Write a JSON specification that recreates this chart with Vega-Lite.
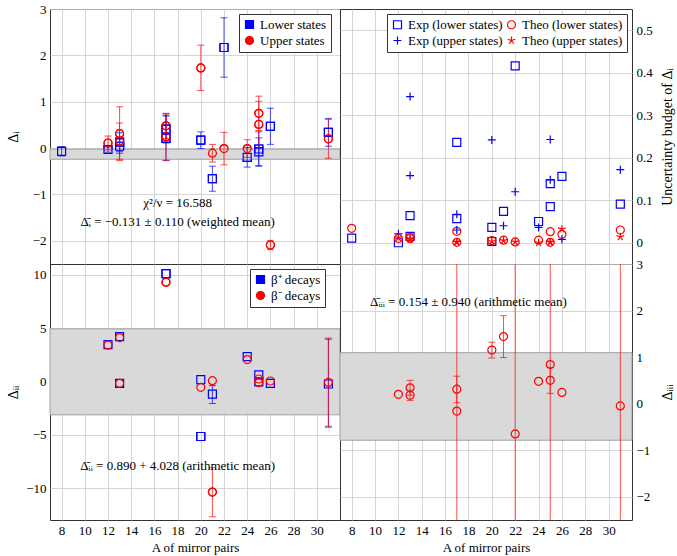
{
  "$schema": "https://vega.github.io/schema/vega-lite/v6.json",
  "padding": {"left": 5, "top": 2, "right": 2, "bottom": 2},
  "bounds": "flush",
  "spacing": 0,
  "columns": 2,
  "config": {
    "font": "Liberation Serif",
    "view": {"stroke": "#333333", "strokeWidth": 1},
    "axis": {
      "labelFont": "Liberation Serif", "labelFontSize": 13, "labelColor": "#000000",
      "titleFont": "Liberation Serif", "titleFontSize": 14, "titleFontWeight": "normal", "titleColor": "#000000",
      "gridColor": "#cccccc", "gridWidth": 0.8, "domain": false, "ticks": false, "labelPadding": 4, "labelOverlap": false
    },
    "legend": {
      "labelFont": "Liberation Serif", "labelFontSize": 13, "labelColor": "#000000",
      "fillColor": "#ffffff", "strokeColor": "#333333", "padding": 4, "rowPadding": 2,
      "symbolSize": 64, "symbolStrokeWidth": 1.2, "offset": 5
    },
    "text": {"font": "Liberation Serif", "fontSize": 13}
  },
  "datasets": {
    "p1": [
      {"A": 8, "v": -0.07, "lo": -0.17, "hi": 0.03, "s": "Lower states"},
      {"A": 12, "v": -0.03, "lo": -0.09, "hi": 0.03, "s": "Lower states"},
      {"A": 13, "v": 0.13, "lo": -0.07, "hi": 0.33, "s": "Lower states"},
      {"A": 13, "v": 0.04, "lo": -0.11, "hi": 0.19, "s": "Lower states"},
      {"A": 17, "v": 0.41, "lo": 0.11, "hi": 0.71, "s": "Lower states"},
      {"A": 17, "v": 0.21, "lo": -0.27, "hi": 0.69, "s": "Lower states"},
      {"A": 20, "v": 0.17, "lo": -0.01, "hi": 0.35, "s": "Lower states"},
      {"A": 21, "v": -0.66, "lo": -0.93, "hi": -0.39, "s": "Lower states"},
      {"A": 22, "v": 2.17, "lo": 1.53, "hi": 2.81, "s": "Lower states"},
      {"A": 24, "v": -0.2, "lo": -0.41, "hi": 0.01, "s": "Lower states"},
      {"A": 25, "v": -0.02, "lo": -0.39, "hi": 0.35, "s": "Lower states"},
      {"A": 25, "v": -0.08, "lo": -0.38, "hi": 0.22, "s": "Lower states"},
      {"A": 26, "v": 0.47, "lo": 0.08, "hi": 0.86, "s": "Lower states"},
      {"A": 31, "v": 0.34, "lo": 0.04, "hi": 0.64, "s": "Lower states"},
      {"A": 12, "v": 0.11, "lo": -0.04, "hi": 0.26, "s": "Upper states"},
      {"A": 13, "v": 0.31, "lo": -0.27, "hi": 0.89, "s": "Upper states"},
      {"A": 13, "v": 0.15, "lo": -0.24, "hi": 0.54, "s": "Upper states"},
      {"A": 17, "v": 0.48, "lo": 0.21, "hi": 0.75, "s": "Upper states"},
      {"A": 17, "v": 0.24, "lo": -0.26, "hi": 0.74, "s": "Upper states"},
      {"A": 20, "v": 1.73, "lo": 1.24, "hi": 2.22, "s": "Upper states"},
      {"A": 21, "v": -0.11, "lo": -0.3, "hi": 0.08, "s": "Upper states"},
      {"A": 22, "v": -0.01, "lo": -0.36, "hi": 0.34, "s": "Upper states"},
      {"A": 24, "v": -0.01, "lo": -0.2, "hi": 0.18, "s": "Upper states"},
      {"A": 25, "v": 0.75, "lo": 0.38, "hi": 1.12, "s": "Upper states"},
      {"A": 25, "v": 0.51, "lo": 0.01, "hi": 1.01, "s": "Upper states"},
      {"A": 26, "v": -2.09, "lo": -2.19, "hi": -1.99, "s": "Upper states"},
      {"A": 31, "v": 0.2, "lo": -0.22, "hi": 0.62, "s": "Upper states"}
    ],
    "p2": [
      {"A": 8, "v": 0.011, "s": "Exp (lower states)"},
      {"A": 12, "v": 0.0, "s": "Exp (lower states)"},
      {"A": 13, "v": 0.064, "s": "Exp (lower states)"},
      {"A": 13, "v": 0.015, "s": "Exp (lower states)"},
      {"A": 17, "v": 0.236, "s": "Exp (lower states)"},
      {"A": 17, "v": 0.057, "s": "Exp (lower states)"},
      {"A": 20, "v": 0.036, "s": "Exp (lower states)"},
      {"A": 20, "v": 0.003, "s": "Exp (lower states)"},
      {"A": 21, "v": 0.074, "s": "Exp (lower states)"},
      {"A": 22, "v": 0.416, "s": "Exp (lower states)"},
      {"A": 24, "v": 0.05, "s": "Exp (lower states)"},
      {"A": 25, "v": 0.139, "s": "Exp (lower states)"},
      {"A": 25, "v": 0.085, "s": "Exp (lower states)"},
      {"A": 26, "v": 0.156, "s": "Exp (lower states)"},
      {"A": 31, "v": 0.091, "s": "Exp (lower states)"},
      {"A": 8, "v": 0.034, "s": "Theo (lower states)"},
      {"A": 12, "v": 0.01, "s": "Theo (lower states)"},
      {"A": 13, "v": 0.013, "s": "Theo (lower states)"},
      {"A": 13, "v": 0.01, "s": "Theo (lower states)"},
      {"A": 17, "v": 0.027, "s": "Theo (lower states)"},
      {"A": 17, "v": 0.001, "s": "Theo (lower states)"},
      {"A": 20, "v": 0.005, "s": "Theo (lower states)"},
      {"A": 21, "v": 0.006, "s": "Theo (lower states)"},
      {"A": 22, "v": 0.002, "s": "Theo (lower states)"},
      {"A": 24, "v": 0.006, "s": "Theo (lower states)"},
      {"A": 25, "v": 0.026, "s": "Theo (lower states)"},
      {"A": 25, "v": 0.001, "s": "Theo (lower states)"},
      {"A": 26, "v": 0.02, "s": "Theo (lower states)"},
      {"A": 31, "v": 0.03, "s": "Theo (lower states)"},
      {"A": 12, "v": 0.021, "s": "Exp (upper states)"},
      {"A": 13, "v": 0.344, "s": "Exp (upper states)"},
      {"A": 13, "v": 0.158, "s": "Exp (upper states)"},
      {"A": 17, "v": 0.067, "s": "Exp (upper states)"},
      {"A": 17, "v": 0.03, "s": "Exp (upper states)"},
      {"A": 20, "v": 0.242, "s": "Exp (upper states)"},
      {"A": 21, "v": 0.04, "s": "Exp (upper states)"},
      {"A": 22, "v": 0.12, "s": "Exp (upper states)"},
      {"A": 24, "v": 0.036, "s": "Exp (upper states)"},
      {"A": 25, "v": 0.243, "s": "Exp (upper states)"},
      {"A": 25, "v": 0.148, "s": "Exp (upper states)"},
      {"A": 26, "v": 0.008, "s": "Exp (upper states)"},
      {"A": 31, "v": 0.172, "s": "Exp (upper states)"},
      {"A": 12, "v": 0.012, "s": "Theo (upper states)"},
      {"A": 13, "v": 0.01, "s": "Theo (upper states)"},
      {"A": 13, "v": 0.008, "s": "Theo (upper states)"},
      {"A": 17, "v": 0.002, "s": "Theo (upper states)"},
      {"A": 17, "v": 0.001, "s": "Theo (upper states)"},
      {"A": 20, "v": 0.003, "s": "Theo (upper states)"},
      {"A": 21, "v": 0.005, "s": "Theo (upper states)"},
      {"A": 22, "v": 0.002, "s": "Theo (upper states)"},
      {"A": 24, "v": 0.0, "s": "Theo (upper states)"},
      {"A": 25, "v": 0.002, "s": "Theo (upper states)"},
      {"A": 25, "v": 0.001, "s": "Theo (upper states)"},
      {"A": 26, "v": 0.032, "s": "Theo (upper states)"},
      {"A": 31, "v": 0.014, "s": "Theo (upper states)"}
    ],
    "p3": [
      {"A": 12, "v": 3.45, "s": "β⁺ decays"},
      {"A": 13, "v": 4.2, "s": "β⁺ decays"},
      {"A": 13, "v": -0.19, "s": "β⁺ decays"},
      {"A": 17, "v": 10.1, "s": "β⁺ decays"},
      {"A": 20, "v": 0.16, "s": "β⁺ decays"},
      {"A": 20, "v": -5.17, "s": "β⁺ decays"},
      {"A": 21, "v": -1.19, "lo": -2.08, "hi": -0.4, "s": "β⁺ decays"},
      {"A": 24, "v": 2.32, "s": "β⁺ decays"},
      {"A": 25, "v": 0.6, "s": "β⁺ decays"},
      {"A": 25, "v": -0.05, "s": "β⁺ decays"},
      {"A": 26, "v": -0.19, "s": "β⁺ decays"},
      {"A": 31, "v": -0.25, "lo": -4.3, "hi": 3.95, "s": "β⁺ decays"},
      {"A": 12, "v": 3.39, "s": "β⁻ decays"},
      {"A": 13, "v": 4.1, "s": "β⁻ decays"},
      {"A": 13, "v": -0.19, "s": "β⁻ decays"},
      {"A": 17, "v": 9.3, "s": "β⁻ decays"},
      {"A": 20, "v": -0.56, "s": "β⁻ decays"},
      {"A": 21, "v": 0.06, "s": "β⁻ decays"},
      {"A": 21, "v": -10.38, "lo": -12.7, "hi": -8.1, "s": "β⁻ decays"},
      {"A": 24, "v": 2.04, "s": "β⁻ decays"},
      {"A": 25, "v": 0.22, "s": "β⁻ decays"},
      {"A": 25, "v": -0.12, "s": "β⁻ decays"},
      {"A": 26, "v": 0.03, "s": "β⁻ decays"},
      {"A": 31, "v": -0.1, "lo": -4.2, "hi": 4.05, "s": "β⁻ decays"}
    ],
    "p4": [
      {"A": 12, "v": 0.2},
      {"A": 13, "v": 0.34, "lo": 0.18, "hi": 0.5},
      {"A": 13, "v": 0.18, "lo": 0.07, "hi": 0.29},
      {"A": 17, "v": 0.31, "lo": 0.02, "hi": 0.59},
      {"A": 17, "v": -0.16, "lo": -9, "hi": 9},
      {"A": 20, "v": 1.15, "lo": 0.98, "hi": 1.32},
      {"A": 21, "v": 1.44, "lo": 0.99, "hi": 1.89},
      {"A": 22, "v": -0.65, "lo": -9, "hi": 9},
      {"A": 24, "v": 0.48},
      {"A": 25, "v": 0.84, "lo": -9, "hi": 9},
      {"A": 25, "v": 0.5, "lo": 0.22, "hi": 0.78},
      {"A": 26, "v": 0.24},
      {"A": 31, "v": -0.05, "lo": -9, "hi": 9}
    ]
  },
  "resolve": {
    "scale": {"color": "independent", "shape": "independent", "fill": "independent", "stroke": "independent"},
    "legend": {"color": "independent", "shape": "independent"}
  },
  "concat": [
    {
      "width": 290, "height": 255,
      "layer": [
        {
          "data": {"name": "p1"},
          "mark": {"type": "point", "filled": false, "size": 64, "strokeWidth": 1.2, "opacity": 1},
          "encoding": {
            "x": {"field": "A", "type": "quantitative", "scale": {"domain": [7, 32], "nice": false, "zero": false},
                  "axis": {"values": [8, 10, 12, 14, 16, 18, 20, 22, 24, 26, 28, 30], "labels": false, "title": null, "grid": true, "labelOverlap": false}},
            "y": {"field": "v", "type": "quantitative", "scale": {"domain": [-2.5, 3], "nice": false, "zero": false},
                  "axis": {"title": "Δᵢ", "values": [-2, -1, 0, 1, 2, 3], "grid": true, "minExtent": 28, "maxExtent": 28, "titlePadding": 2, "labelFont": "Liberation Serif", "titleFont": "Liberation Serif", "labelFontSize": 13, "titleFontSize": 14, "labelOverlap": false}},
            "color": {"field": "s", "type": "nominal", "scale": {"domain": ["Lower states", "Upper states"], "range": ["#0000ff", "#ff0000"]},
                      "legend": {"title": null, "orient": "none", "legendX": 189, "legendY": 5, "labelFont": "Liberation Serif", "labelFontSize": 13}},
            "shape": {"field": "s", "type": "nominal", "scale": {"domain": ["Lower states", "Upper states"], "range": ["square", "circle"]},
                      "legend": {"title": null, "orient": "none", "legendX": 189, "legendY": 5, "labelFont": "Liberation Serif", "labelFontSize": 13}}
          }
        },
        {
          "data": {"values": [{"lo": -0.241, "hi": -0.021}]},
          "mark": {"type": "rect", "fill": "#d9d9d9", "stroke": "#a0a0a0", "strokeWidth": 1},
          "encoding": {
            "y": {"field": "lo", "type": "quantitative", "scale": {"domain": [-2.5, 3], "nice": false, "zero": false},
                  "axis": {"title": "Δᵢ", "values": [-2, -1, 0, 1, 2, 3], "grid": true, "minExtent": 28, "maxExtent": 28, "titlePadding": 2, "labelFont": "Liberation Serif", "titleFont": "Liberation Serif", "labelFontSize": 13, "titleFontSize": 14, "labelOverlap": false}},
            "y2": {"field": "hi"}
          }
        },
        {
          "data": {"name": "p1"},
          "mark": {"type": "rule", "strokeWidth": 1, "opacity": 0.7, "clip": true},
          "encoding": {
            "x": {"field": "A", "type": "quantitative", "scale": {"domain": [7, 32], "nice": false, "zero": false},
                  "axis": {"values": [8, 10, 12, 14, 16, 18, 20, 22, 24, 26, 28, 30], "labels": false, "title": null, "grid": true, "labelOverlap": false}},
            "y": {"field": "lo", "type": "quantitative", "scale": {"domain": [-2.5, 3], "nice": false, "zero": false},
                  "axis": {"title": "Δᵢ", "values": [-2, -1, 0, 1, 2, 3], "grid": true, "minExtent": 28, "maxExtent": 28, "titlePadding": 2, "labelFont": "Liberation Serif", "titleFont": "Liberation Serif", "labelFontSize": 13, "titleFontSize": 14, "labelOverlap": false}},
            "y2": {"field": "hi"},
            "stroke": {"field": "s", "type": "nominal", "scale": {"domain": ["Lower states", "Upper states"], "range": ["#0000ff", "#ff0000"]}, "legend": null}
          }
        },
        {
          "data": {"name": "p1"},
          "mark": {"type": "tick", "orient": "horizontal", "size": 7, "thickness": 1, "opacity": 0.7, "clip": true},
          "encoding": {
            "x": {"field": "A", "type": "quantitative", "scale": {"domain": [7, 32], "nice": false, "zero": false},
                  "axis": {"values": [8, 10, 12, 14, 16, 18, 20, 22, 24, 26, 28, 30], "labels": false, "title": null, "grid": true, "labelOverlap": false}},
            "y": {"field": "lo", "type": "quantitative", "scale": {"domain": [-2.5, 3], "nice": false, "zero": false},
                  "axis": {"title": "Δᵢ", "values": [-2, -1, 0, 1, 2, 3], "grid": true, "minExtent": 28, "maxExtent": 28, "titlePadding": 2, "labelFont": "Liberation Serif", "titleFont": "Liberation Serif", "labelFontSize": 13, "titleFontSize": 14, "labelOverlap": false}},
            "fill": {"field": "s", "type": "nominal", "scale": {"domain": ["Lower states", "Upper states"], "range": ["#0000ff", "#ff0000"]}, "legend": null}
          }
        },
        {
          "data": {"name": "p1"},
          "mark": {"type": "tick", "orient": "horizontal", "size": 7, "thickness": 1, "opacity": 0.7, "clip": true},
          "encoding": {
            "x": {"field": "A", "type": "quantitative", "scale": {"domain": [7, 32], "nice": false, "zero": false},
                  "axis": {"values": [8, 10, 12, 14, 16, 18, 20, 22, 24, 26, 28, 30], "labels": false, "title": null, "grid": true, "labelOverlap": false}},
            "y": {"field": "hi", "type": "quantitative", "scale": {"domain": [-2.5, 3], "nice": false, "zero": false},
                  "axis": {"title": "Δᵢ", "values": [-2, -1, 0, 1, 2, 3], "grid": true, "minExtent": 28, "maxExtent": 28, "titlePadding": 2, "labelFont": "Liberation Serif", "titleFont": "Liberation Serif", "labelFontSize": 13, "titleFontSize": 14, "labelOverlap": false}},
            "fill": {"field": "s", "type": "nominal", "scale": {"domain": ["Lower states", "Upper states"], "range": ["#0000ff", "#ff0000"]}, "legend": null}
          }
        },
        {
          "data": {"name": "p1"},
          "transform": [{"filter": "datum.s == 'Lower states'"}],
          "mark": {"type": "point", "shape": "square", "filled": false, "size": 64, "strokeWidth": 1.2, "opacity": 1, "color": "#0000ff"},
          "encoding": {
            "x": {"field": "A", "type": "quantitative", "scale": {"domain": [7, 32], "nice": false, "zero": false},
                  "axis": {"values": [8, 10, 12, 14, 16, 18, 20, 22, 24, 26, 28, 30], "labels": false, "title": null, "grid": true, "labelOverlap": false}},
            "y": {"field": "v", "type": "quantitative", "scale": {"domain": [-2.5, 3], "nice": false, "zero": false},
                  "axis": {"title": "Δᵢ", "values": [-2, -1, 0, 1, 2, 3], "grid": true, "minExtent": 28, "maxExtent": 28, "titlePadding": 2, "labelFont": "Liberation Serif", "titleFont": "Liberation Serif", "labelFontSize": 13, "titleFontSize": 14, "labelOverlap": false}}
          }
        },
        {
          "data": {"name": "p1"},
          "transform": [{"filter": "datum.s == 'Upper states'"}],
          "mark": {"type": "point", "shape": "circle", "filled": false, "size": 64, "strokeWidth": 1.2, "opacity": 1, "color": "#ff0000"},
          "encoding": {
            "x": {"field": "A", "type": "quantitative", "scale": {"domain": [7, 32], "nice": false, "zero": false},
                  "axis": {"values": [8, 10, 12, 14, 16, 18, 20, 22, 24, 26, 28, 30], "labels": false, "title": null, "grid": true, "labelOverlap": false}},
            "y": {"field": "v", "type": "quantitative", "scale": {"domain": [-2.5, 3], "nice": false, "zero": false},
                  "axis": {"title": "Δᵢ", "values": [-2, -1, 0, 1, 2, 3], "grid": true, "minExtent": 28, "maxExtent": 28, "titlePadding": 2, "labelFont": "Liberation Serif", "titleFont": "Liberation Serif", "labelFontSize": 13, "titleFontSize": 14, "labelOverlap": false}}
          }
        },
        {
          "data": {"values": [
            {"A": 18, "v": -1.18, "label": "χ²/ν = 16.588"},
            {"A": 18, "v": -1.585, "label": "Δ̄ᵢ = −0.131 ± 0.110 (weighted mean)"}
          ]},
          "mark": {"type": "text", "fontSize": 13, "color": "#000000"},
          "encoding": {
            "x": {"field": "A", "type": "quantitative", "scale": {"domain": [7, 32], "nice": false, "zero": false},
                  "axis": {"values": [8, 10, 12, 14, 16, 18, 20, 22, 24, 26, 28, 30], "labels": false, "title": null, "grid": true, "labelOverlap": false}},
            "y": {"field": "v", "type": "quantitative", "scale": {"domain": [-2.5, 3], "nice": false, "zero": false},
                  "axis": {"title": "Δᵢ", "values": [-2, -1, 0, 1, 2, 3], "grid": true, "minExtent": 28, "maxExtent": 28, "titlePadding": 2, "labelFont": "Liberation Serif", "titleFont": "Liberation Serif", "labelFontSize": 13, "titleFontSize": 14, "labelOverlap": false}},
            "text": {"field": "label"}
          }
        }
      ]
    },
    {
      "width": 292, "height": 255,
      "layer": [
        {
          "data": {"name": "p2"},
          "mark": {"type": "point", "filled": false, "size": 64, "strokeWidth": 1.2, "opacity": 1},
          "encoding": {
            "x": {"field": "A", "type": "quantitative", "scale": {"domain": [7, 32], "nice": false, "zero": false},
                  "axis": {"values": [8, 10, 12, 14, 16, 18, 20, 22, 24, 26, 28, 30], "labels": false, "title": null, "grid": true}},
            "y": {"field": "v", "type": "quantitative", "scale": {"domain": [-0.05, 0.55], "nice": false, "zero": false},
                  "axis": {"orient": "right", "title": "Uncertainty budget of Δᵢ", "titleAngle": 270, "titleBaseline": "top", "values": [0, 0.1, 0.2, 0.3, 0.4, 0.5], "format": "~g", "grid": true, "minExtent": 26, "maxExtent": 26, "titlePadding": 2,
                           "labelFont": "Liberation Serif", "titleFont": "Liberation Serif", "labelFontSize": 13, "titleFontSize": 14}},
            "color": {"field": "s", "type": "nominal",
                      "scale": {"domain": ["Exp (lower states)", "Exp (upper states)", "Theo (lower states)", "Theo (upper states)"], "range": ["#0000ff", "#0000ff", "#ff0000", "#ff0000"]},
                      "legend": {"title": null, "orient": "top-right", "offset": 5, "columns": 2, "columnPadding": 2}},
            "shape": {"field": "s", "type": "nominal",
                      "scale": {"domain": ["Exp (lower states)", "Exp (upper states)", "Theo (lower states)", "Theo (upper states)"],
                                "range": ["square", "M-1,0L1,0M0,-1L0,1", "circle", "M0,0L0,-1M0,0L0.951,-0.309M0,0L0.588,0.809M0,0L-0.588,0.809M0,0L-0.951,-0.309"]},
                      "legend": {"title": null, "orient": "top-right", "offset": 5, "columns": 2, "columnPadding": 2}}
          }
        }
      ]
    },
    {
      "width": 290, "height": 256,
      "layer": [
        {
          "data": {"name": "p3"},
          "mark": {"type": "point", "filled": false, "size": 64, "strokeWidth": 1.2, "opacity": 1},
          "encoding": {
            "x": {"field": "A", "type": "quantitative", "scale": {"domain": [7, 32], "nice": false, "zero": false},
                  "axis": {"values": [8, 10, 12, 14, 16, 18, 20, 22, 24, 26, 28, 30], "title": "A of mirror pairs", "grid": true, "titlePadding": 4, "labelFont": "Liberation Serif", "titleFont": "Liberation Serif", "labelFontSize": 13, "titleFontSize": 13, "labelOverlap": false}},
            "y": {"field": "v", "type": "quantitative", "scale": {"domain": [-13, 11], "nice": false, "zero": false},
                  "axis": {"title": "Δᵢᵢ", "values": [-10, -5, 0, 5, 10], "grid": true, "minExtent": 28, "maxExtent": 28, "titlePadding": 2, "labelFont": "Liberation Serif", "titleFont": "Liberation Serif", "labelFontSize": 13, "titleFontSize": 14, "labelOverlap": false}},
            "color": {"field": "s", "type": "nominal", "scale": {"domain": ["β⁺ decays", "β⁻ decays"], "range": ["#0000ff", "#ff0000"]},
                      "legend": {"title": null, "orient": "none", "legendX": 200, "legendY": 5, "labelFont": "Liberation Serif", "labelFontSize": 13}},
            "shape": {"field": "s", "type": "nominal", "scale": {"domain": ["β⁺ decays", "β⁻ decays"], "range": ["square", "circle"]},
                      "legend": {"title": null, "orient": "none", "legendX": 200, "legendY": 5, "labelFont": "Liberation Serif", "labelFontSize": 13}}
          }
        },
        {
          "data": {"values": [{"lo": -3.138, "hi": 4.918}]},
          "mark": {"type": "rect", "fill": "#d9d9d9", "stroke": "#a0a0a0", "strokeWidth": 1},
          "encoding": {
            "y": {"field": "lo", "type": "quantitative", "scale": {"domain": [-13, 11], "nice": false, "zero": false},
                  "axis": {"title": "Δᵢᵢ", "values": [-10, -5, 0, 5, 10], "grid": true, "minExtent": 28, "maxExtent": 28, "titlePadding": 2, "labelFont": "Liberation Serif", "titleFont": "Liberation Serif", "labelFontSize": 13, "titleFontSize": 14, "labelOverlap": false}},
            "y2": {"field": "hi"}
          }
        },
        {
          "data": {"name": "p3"},
          "transform": [{"filter": "isValid(datum.lo)"}],
          "mark": {"type": "rule", "strokeWidth": 1, "opacity": 0.7, "clip": true},
          "encoding": {
            "x": {"field": "A", "type": "quantitative", "scale": {"domain": [7, 32], "nice": false, "zero": false},
                  "axis": {"values": [8, 10, 12, 14, 16, 18, 20, 22, 24, 26, 28, 30], "title": "A of mirror pairs", "grid": true, "titlePadding": 4, "labelFont": "Liberation Serif", "titleFont": "Liberation Serif", "labelFontSize": 13, "titleFontSize": 13, "labelOverlap": false}},
            "y": {"field": "lo", "type": "quantitative", "scale": {"domain": [-13, 11], "nice": false, "zero": false},
                  "axis": {"title": "Δᵢᵢ", "values": [-10, -5, 0, 5, 10], "grid": true, "minExtent": 28, "maxExtent": 28, "titlePadding": 2, "labelFont": "Liberation Serif", "titleFont": "Liberation Serif", "labelFontSize": 13, "titleFontSize": 14, "labelOverlap": false}},
            "y2": {"field": "hi"},
            "stroke": {"field": "s", "type": "nominal", "scale": {"domain": ["β⁺ decays", "β⁻ decays"], "range": ["#0000ff", "#ff0000"]}, "legend": null}
          }
        },
        {
          "data": {"name": "p3"},
          "transform": [{"filter": "isValid(datum.lo)"}],
          "mark": {"type": "tick", "orient": "horizontal", "size": 7, "thickness": 1, "opacity": 0.7, "clip": true},
          "encoding": {
            "x": {"field": "A", "type": "quantitative", "scale": {"domain": [7, 32], "nice": false, "zero": false},
                  "axis": {"values": [8, 10, 12, 14, 16, 18, 20, 22, 24, 26, 28, 30], "title": "A of mirror pairs", "grid": true, "titlePadding": 4, "labelFont": "Liberation Serif", "titleFont": "Liberation Serif", "labelFontSize": 13, "titleFontSize": 13, "labelOverlap": false}},
            "y": {"field": "lo", "type": "quantitative", "scale": {"domain": [-13, 11], "nice": false, "zero": false},
                  "axis": {"title": "Δᵢᵢ", "values": [-10, -5, 0, 5, 10], "grid": true, "minExtent": 28, "maxExtent": 28, "titlePadding": 2, "labelFont": "Liberation Serif", "titleFont": "Liberation Serif", "labelFontSize": 13, "titleFontSize": 14, "labelOverlap": false}},
            "fill": {"field": "s", "type": "nominal", "scale": {"domain": ["β⁺ decays", "β⁻ decays"], "range": ["#0000ff", "#ff0000"]}, "legend": null}
          }
        },
        {
          "data": {"name": "p3"},
          "transform": [{"filter": "isValid(datum.lo)"}],
          "mark": {"type": "tick", "orient": "horizontal", "size": 7, "thickness": 1, "opacity": 0.7, "clip": true},
          "encoding": {
            "x": {"field": "A", "type": "quantitative", "scale": {"domain": [7, 32], "nice": false, "zero": false},
                  "axis": {"values": [8, 10, 12, 14, 16, 18, 20, 22, 24, 26, 28, 30], "title": "A of mirror pairs", "grid": true, "titlePadding": 4, "labelFont": "Liberation Serif", "titleFont": "Liberation Serif", "labelFontSize": 13, "titleFontSize": 13, "labelOverlap": false}},
            "y": {"field": "hi", "type": "quantitative", "scale": {"domain": [-13, 11], "nice": false, "zero": false},
                  "axis": {"title": "Δᵢᵢ", "values": [-10, -5, 0, 5, 10], "grid": true, "minExtent": 28, "maxExtent": 28, "titlePadding": 2, "labelFont": "Liberation Serif", "titleFont": "Liberation Serif", "labelFontSize": 13, "titleFontSize": 14, "labelOverlap": false}},
            "fill": {"field": "s", "type": "nominal", "scale": {"domain": ["β⁺ decays", "β⁻ decays"], "range": ["#0000ff", "#ff0000"]}, "legend": null}
          }
        },
        {
          "data": {"name": "p3"},
          "transform": [{"filter": "datum.s == 'β⁺ decays'"}],
          "mark": {"type": "point", "shape": "square", "filled": false, "size": 64, "strokeWidth": 1.2, "opacity": 1, "color": "#0000ff"},
          "encoding": {
            "x": {"field": "A", "type": "quantitative", "scale": {"domain": [7, 32], "nice": false, "zero": false},
                  "axis": {"values": [8, 10, 12, 14, 16, 18, 20, 22, 24, 26, 28, 30], "title": "A of mirror pairs", "grid": true, "titlePadding": 4, "labelFont": "Liberation Serif", "titleFont": "Liberation Serif", "labelFontSize": 13, "titleFontSize": 13, "labelOverlap": false}},
            "y": {"field": "v", "type": "quantitative", "scale": {"domain": [-13, 11], "nice": false, "zero": false},
                  "axis": {"title": "Δᵢᵢ", "values": [-10, -5, 0, 5, 10], "grid": true, "minExtent": 28, "maxExtent": 28, "titlePadding": 2, "labelFont": "Liberation Serif", "titleFont": "Liberation Serif", "labelFontSize": 13, "titleFontSize": 14, "labelOverlap": false}}
          }
        },
        {
          "data": {"name": "p3"},
          "transform": [{"filter": "datum.s == 'β⁻ decays'"}],
          "mark": {"type": "point", "shape": "circle", "filled": false, "size": 64, "strokeWidth": 1.2, "opacity": 1, "color": "#ff0000"},
          "encoding": {
            "x": {"field": "A", "type": "quantitative", "scale": {"domain": [7, 32], "nice": false, "zero": false},
                  "axis": {"values": [8, 10, 12, 14, 16, 18, 20, 22, 24, 26, 28, 30], "title": "A of mirror pairs", "grid": true, "titlePadding": 4, "labelFont": "Liberation Serif", "titleFont": "Liberation Serif", "labelFontSize": 13, "titleFontSize": 13, "labelOverlap": false}},
            "y": {"field": "v", "type": "quantitative", "scale": {"domain": [-13, 11], "nice": false, "zero": false},
                  "axis": {"title": "Δᵢᵢ", "values": [-10, -5, 0, 5, 10], "grid": true, "minExtent": 28, "maxExtent": 28, "titlePadding": 2, "labelFont": "Liberation Serif", "titleFont": "Liberation Serif", "labelFontSize": 13, "titleFontSize": 14, "labelOverlap": false}}
          }
        },
        {
          "data": {"values": [{"A": 18, "v": -7.98, "label": "Δ̄ᵢᵢ = 0.890 + 4.028 (arithmetic mean)"}]},
          "mark": {"type": "text", "fontSize": 13, "color": "#000000"},
          "encoding": {
            "x": {"field": "A", "type": "quantitative", "scale": {"domain": [7, 32], "nice": false, "zero": false},
                  "axis": {"values": [8, 10, 12, 14, 16, 18, 20, 22, 24, 26, 28, 30], "title": "A of mirror pairs", "grid": true, "titlePadding": 4, "labelFont": "Liberation Serif", "titleFont": "Liberation Serif", "labelFontSize": 13, "titleFontSize": 13, "labelOverlap": false}},
            "y": {"field": "v", "type": "quantitative", "scale": {"domain": [-13, 11], "nice": false, "zero": false},
                  "axis": {"title": "Δᵢᵢ", "values": [-10, -5, 0, 5, 10], "grid": true, "minExtent": 28, "maxExtent": 28, "titlePadding": 2, "labelFont": "Liberation Serif", "titleFont": "Liberation Serif", "labelFontSize": 13, "titleFontSize": 14, "labelOverlap": false}},
            "text": {"field": "label"}
          }
        }
      ]
    },
    {
      "width": 292, "height": 256,
      "layer": [
        {
          "data": {"values": [{"lo": -0.786, "hi": 1.094}]},
          "mark": {"type": "rect", "fill": "#d9d9d9", "stroke": "#a0a0a0", "strokeWidth": 1},
          "encoding": {
            "y": {"field": "lo", "type": "quantitative", "scale": {"domain": [-2.5, 3], "nice": false, "zero": false},
                  "axis": {"orient": "right", "title": "Δᵢᵢᵢ", "titleAngle": 270, "titleBaseline": "top", "values": [-2, -1, 0, 1, 2, 3], "grid": true, "minExtent": 26, "maxExtent": 26, "titlePadding": 2, "labelFont": "Liberation Serif", "titleFont": "Liberation Serif", "labelFontSize": 13, "titleFontSize": 14, "labelOverlap": false}},
            "y2": {"field": "hi"}
          }
        },
        {
          "data": {"name": "p4"},
          "transform": [{"filter": "isValid(datum.lo)"}],
          "mark": {"type": "rule", "strokeWidth": 1, "opacity": 0.7, "clip": true, "color": "#ff0000"},
          "encoding": {
            "x": {"field": "A", "type": "quantitative", "scale": {"domain": [7, 32], "nice": false, "zero": false},
                  "axis": {"values": [8, 10, 12, 14, 16, 18, 20, 22, 24, 26, 28, 30], "title": "A of mirror pairs", "grid": true, "titlePadding": 4, "labelFont": "Liberation Serif", "titleFont": "Liberation Serif", "labelFontSize": 13, "titleFontSize": 13, "labelOverlap": false}},
            "y": {"field": "lo", "type": "quantitative", "scale": {"domain": [-2.5, 3], "nice": false, "zero": false},
                  "axis": {"orient": "right", "title": "Δᵢᵢᵢ", "titleAngle": 270, "titleBaseline": "top", "values": [-2, -1, 0, 1, 2, 3], "grid": true, "minExtent": 26, "maxExtent": 26, "titlePadding": 2, "labelFont": "Liberation Serif", "titleFont": "Liberation Serif", "labelFontSize": 13, "titleFontSize": 14, "labelOverlap": false}},
            "y2": {"field": "hi"}
          }
        },
        {
          "data": {"name": "p4"},
          "transform": [{"filter": "isValid(datum.lo)"}],
          "mark": {"type": "tick", "orient": "horizontal", "size": 7, "thickness": 1, "opacity": 0.7, "clip": true, "color": "#ff0000"},
          "encoding": {
            "x": {"field": "A", "type": "quantitative", "scale": {"domain": [7, 32], "nice": false, "zero": false},
                  "axis": {"values": [8, 10, 12, 14, 16, 18, 20, 22, 24, 26, 28, 30], "title": "A of mirror pairs", "grid": true, "titlePadding": 4, "labelFont": "Liberation Serif", "titleFont": "Liberation Serif", "labelFontSize": 13, "titleFontSize": 13, "labelOverlap": false}},
            "y": {"field": "lo", "type": "quantitative", "scale": {"domain": [-2.5, 3], "nice": false, "zero": false},
                  "axis": {"orient": "right", "title": "Δᵢᵢᵢ", "titleAngle": 270, "titleBaseline": "top", "values": [-2, -1, 0, 1, 2, 3], "grid": true, "minExtent": 26, "maxExtent": 26, "titlePadding": 2, "labelFont": "Liberation Serif", "titleFont": "Liberation Serif", "labelFontSize": 13, "titleFontSize": 14, "labelOverlap": false}}
          }
        },
        {
          "data": {"name": "p4"},
          "transform": [{"filter": "isValid(datum.lo)"}],
          "mark": {"type": "tick", "orient": "horizontal", "size": 7, "thickness": 1, "opacity": 0.7, "clip": true, "color": "#ff0000"},
          "encoding": {
            "x": {"field": "A", "type": "quantitative", "scale": {"domain": [7, 32], "nice": false, "zero": false},
                  "axis": {"values": [8, 10, 12, 14, 16, 18, 20, 22, 24, 26, 28, 30], "title": "A of mirror pairs", "grid": true, "titlePadding": 4, "labelFont": "Liberation Serif", "titleFont": "Liberation Serif", "labelFontSize": 13, "titleFontSize": 13, "labelOverlap": false}},
            "y": {"field": "hi", "type": "quantitative", "scale": {"domain": [-2.5, 3], "nice": false, "zero": false},
                  "axis": {"orient": "right", "title": "Δᵢᵢᵢ", "titleAngle": 270, "titleBaseline": "top", "values": [-2, -1, 0, 1, 2, 3], "grid": true, "minExtent": 26, "maxExtent": 26, "titlePadding": 2, "labelFont": "Liberation Serif", "titleFont": "Liberation Serif", "labelFontSize": 13, "titleFontSize": 14, "labelOverlap": false}}
          }
        },
        {
          "data": {"name": "p4"},
          "mark": {"type": "point", "shape": "circle", "filled": false, "size": 64, "strokeWidth": 1.2, "opacity": 1, "color": "#ff0000"},
          "encoding": {
            "x": {"field": "A", "type": "quantitative", "scale": {"domain": [7, 32], "nice": false, "zero": false},
                  "axis": {"values": [8, 10, 12, 14, 16, 18, 20, 22, 24, 26, 28, 30], "title": "A of mirror pairs", "grid": true, "titlePadding": 4, "labelFont": "Liberation Serif", "titleFont": "Liberation Serif", "labelFontSize": 13, "titleFontSize": 13, "labelOverlap": false}},
            "y": {"field": "v", "type": "quantitative", "scale": {"domain": [-2.5, 3], "nice": false, "zero": false},
                  "axis": {"orient": "right", "title": "Δᵢᵢᵢ", "titleAngle": 270, "titleBaseline": "top", "values": [-2, -1, 0, 1, 2, 3], "grid": true, "minExtent": 26, "maxExtent": 26, "titlePadding": 2, "labelFont": "Liberation Serif", "titleFont": "Liberation Serif", "labelFontSize": 13, "titleFontSize": 14, "labelOverlap": false}}
          }
        },
        {
          "data": {"values": [{"A": 18, "v": 2.18, "label": "Δ̄ᵢᵢᵢ = 0.154 ± 0.940 (arithmetic mean)"}]},
          "mark": {"type": "text", "fontSize": 13, "color": "#000000"},
          "encoding": {
            "x": {"field": "A", "type": "quantitative", "scale": {"domain": [7, 32], "nice": false, "zero": false},
                  "axis": {"values": [8, 10, 12, 14, 16, 18, 20, 22, 24, 26, 28, 30], "title": "A of mirror pairs", "grid": true, "titlePadding": 4, "labelFont": "Liberation Serif", "titleFont": "Liberation Serif", "labelFontSize": 13, "titleFontSize": 13, "labelOverlap": false}},
            "y": {"field": "v", "type": "quantitative", "scale": {"domain": [-2.5, 3], "nice": false, "zero": false},
                  "axis": {"orient": "right", "title": "Δᵢᵢᵢ", "titleAngle": 270, "titleBaseline": "top", "values": [-2, -1, 0, 1, 2, 3], "grid": true, "minExtent": 26, "maxExtent": 26, "titlePadding": 2, "labelFont": "Liberation Serif", "titleFont": "Liberation Serif", "labelFontSize": 13, "titleFontSize": 14, "labelOverlap": false}},
            "text": {"field": "label"}
          }
        }
      ]
    }
  ]
}
